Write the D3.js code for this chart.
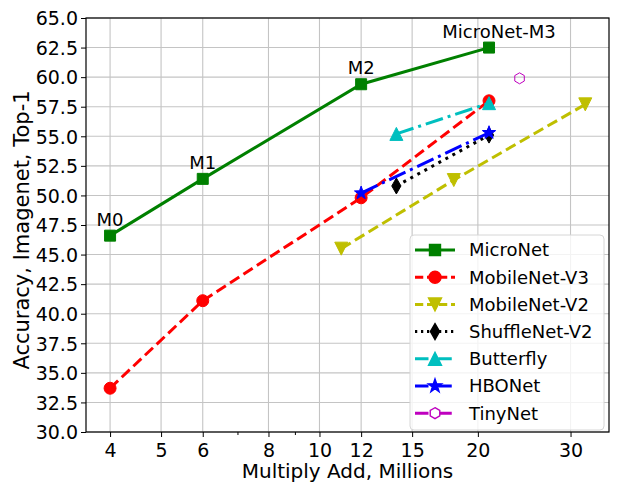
<!DOCTYPE html>
<html>
<head>
<meta charset="utf-8">
<script src="https://cdn.jsdelivr.net/npm/d3@7"></script>
<style>
  html, body { margin: 0; padding: 0; background: #fff; }
  svg text { font-family: "DejaVu Sans", sans-serif; fill: #000; }
</style>
</head>
<body>
<svg id="chart" width="623" height="495"></svg>
<script>
// data
const microX = [4, 6, 12, 21];
const microY = [46.6, 51.4, 59.4, 62.5];
const microLabels = ['M0', 'M1', 'M2', 'MicroNet-M3'];
const mbv3X = [4, 6, 12, 21];
const mbv3Y = [33.7, 41.1, 49.8, 58.0];
const mbv2X = [11, 18, 32];
const mbv2Y = [45.5, 51.3, 57.7];
const shuffleX = [14, 21];
const shuffleY = [50.8, 55.1];
const butterflyX = [14, 21];
const butterflyY = [55.2, 57.8];
const hboX = [12, 21];
const hboY = [50.2, 55.3];
const tinyX = [24];
const tinyY = [59.9];

const xTicks = [4, 5, 6, 8, 10, 12, 15, 20, 30];
const xMinorTicks = [7, 9];
const yTicks = [30, 32.5, 35, 37.5, 40, 42.5, 45, 47.5, 50, 52.5, 55, 57.5, 60, 62.5, 65];

const series = [
  { name: 'MicroNet',     xs: microX,     ys: microY,     color: '#008000', dash: null,          marker: 'square' },
  { name: 'MobileNet-V3', xs: mbv3X,      ys: mbv3Y,      color: '#ff0000', dash: '11,5',        marker: 'circle' },
  { name: 'MobileNet-V2', xs: mbv2X,      ys: mbv2Y,      color: '#bfbf00', dash: '11,5',        marker: 'tridown' },
  { name: 'ShuffleNet-V2',xs: shuffleX,   ys: shuffleY,   color: '#000000', dash: '3,5',         marker: 'thindiamond' },
  { name: 'Butterfly',    xs: butterflyX, ys: butterflyY, color: '#00bfbf', dash: '18,5,3,5',    marker: 'triup' },
  { name: 'HBONet',       xs: hboX,       ys: hboY,       color: '#0000ff', dash: '18,5,3,5',    marker: 'star' },
  { name: 'TinyNet',      xs: tinyX,      ys: tinyY,      color: '#bf00bf', dash: '18,5,3,5',    marker: 'hexagon' }
];

const W = 623, H = 495;
const m = { top: 18, right: 14, bottom: 63, left: 86 };
const svg = d3.select('#chart');

const x = d3.scaleLog().domain([3.6, 35.5]).range([m.left, W - m.right]);
const y = d3.scaleLinear().domain([30, 65]).range([H - m.bottom, m.top]);

// marker paths, centred on 0,0
function markerPath(type) {
  switch (type) {
    case 'square': return 'M-5.5,-5.5H5.5V5.5H-5.5Z';
    case 'circle': return d3.symbol(d3.symbolCircle, Math.PI * 6 * 6)();
    case 'tridown': return 'M-6.5,-6.5L6.5,-6.5L0,6.5Z';
    case 'triup': return 'M-6.5,6.5L6.5,6.5L0,-6.5Z';
    case 'thindiamond': return 'M0,-8L4.6,0L0,8L-4.6,0Z';
    case 'star': {
      const pts = [];
      for (let i = 0; i < 10; i++) {
        const r = i % 2 === 0 ? 7 : 2.8;
        const a = -Math.PI / 2 + i * Math.PI / 5;
        pts.push([r * Math.cos(a), r * Math.sin(a)]);
      }
      return 'M' + pts.map(p => p.join(',')).join('L') + 'Z';
    }
    case 'hexagon': {
      const pts = [];
      for (let i = 0; i < 6; i++) {
        const a = -Math.PI / 2 + i * Math.PI / 3;
        pts.push([5.5 * Math.cos(a), 5.5 * Math.sin(a)]);
      }
      return 'M' + pts.map(p => p.join(',')).join('L') + 'Z';
    }
  }
}

// grid
const grid = svg.append('g');
grid.selectAll('.gx').data(xTicks).join('line')
  .attr('x1', d => x(d)).attr('x2', d => x(d)).attr('y1', m.top).attr('y2', H - m.bottom)
  .attr('stroke', '#c4c4c4').attr('stroke-width', 1.1);
grid.selectAll('.gy').data(yTicks).join('line')
  .attr('x1', m.left).attr('x2', W - m.right).attr('y1', d => y(d)).attr('y2', d => y(d))
  .attr('stroke', '#c4c4c4').attr('stroke-width', 1.1);

// axes
const xAxis = svg.append('g').attr('transform', `translate(0,${H - m.bottom})`)
  .call(d3.axisBottom(x).tickValues(xTicks).tickFormat(d3.format('d')).tickSize(5).tickPadding(5));
xAxis.append('g').selectAll('line').data(xMinorTicks).join('line')
  .attr('x1', d => x(d)).attr('x2', d => x(d)).attr('y1', 0).attr('y2', 3)
  .attr('stroke', '#000');
const yAxis = svg.append('g').attr('transform', `translate(${m.left},0)`)
  .call(d3.axisLeft(y).tickValues(yTicks).tickFormat(d3.format('.1f')).tickSize(5).tickPadding(3));
[xAxis, yAxis].forEach(a => {
  a.select('.domain').remove();
  a.selectAll('text').style('font-size', '19px').attr('font-family', 'DejaVu Sans');
});
xAxis.selectAll('.tick text').attr('dy', '0.78em');
yAxis.selectAll('.tick text').attr('dy', '0.36em');

// frame
svg.append('rect').attr('x', m.left).attr('y', m.top)
  .attr('width', W - m.left - m.right).attr('height', H - m.top - m.bottom)
  .attr('fill', 'none').attr('stroke', '#000').attr('stroke-width', 1.2);

// lines + markers
const line = d3.line();
series.forEach(s => {
  const pts = s.xs.map((v, i) => [x(v), y(s.ys[i])]);
  if (pts.length > 1) {
    svg.append('path').attr('d', line(pts))
      .attr('fill', 'none').attr('stroke', s.color).attr('stroke-width', 3)
      .attr('stroke-dasharray', s.dash);
  }
  svg.append('g').selectAll('path').data(pts).join('path')
    .attr('transform', d => `translate(${d[0]},${d[1]})`)
    .attr('d', markerPath(s.marker))
    .attr('fill', s.marker === 'hexagon' ? 'none' : s.color)
    .attr('stroke', s.color).attr('stroke-width', 1);
});

// MicroNet annotations
svg.append('g').selectAll('text').data(microLabels).join('text')
  .attr('x', (d, i) => x(microX[i]) + (i === 3 ? 10 : 0))
  .attr('y', (d, i) => y(microY[i]) - 10)
  .attr('text-anchor', 'middle').style('font-size', '18px')
  .text(d => d);

// axis titles
svg.append('text').attr('x', (m.left + W - m.right) / 2).attr('y', 478)
  .attr('text-anchor', 'middle').style('font-size', '20px')
  .text('Multiply Add, Millions');
svg.append('text').attr('transform', 'translate(29,230) rotate(-90)')
  .attr('text-anchor', 'middle').style('font-size', '21px')
  .text('Accuracy, Imagenet, Top-1');

// legend
const lg = svg.append('g');
lg.append('rect').attr('x', 410).attr('y', 235).attr('width', 194).attr('height', 195)
  .attr('rx', 4).attr('fill', '#fff').attr('fill-opacity', 0.8)
  .attr('stroke', '#d6d6d6').attr('stroke-width', 1);
const rows = lg.selectAll('.row').data(series).join('g')
  .attr('transform', (d, i) => `translate(415,${250 + i * 27.2})`);
rows.append('line').attr('x1', 0).attr('x2', 40).attr('y1', 0).attr('y2', 0)
  .attr('stroke', d => d.color).attr('stroke-width', 3)
  .attr('stroke-dasharray', d => d.dash ? d.dash.split(',').map(v => v * 0.75).join(',') : null);
rows.append('path').attr('transform', 'translate(20,0)')
  .attr('d', d => markerPath(d.marker))
  .attr('fill', d => d.marker === 'hexagon' ? '#fff' : d.color)
  .attr('stroke', d => d.color).attr('stroke-width', 1.4);
rows.append('text').attr('x', 54).attr('dy', '0.36em').style('font-size', '18px')
  .text(d => d.name);
</script>
</body>
</html>
